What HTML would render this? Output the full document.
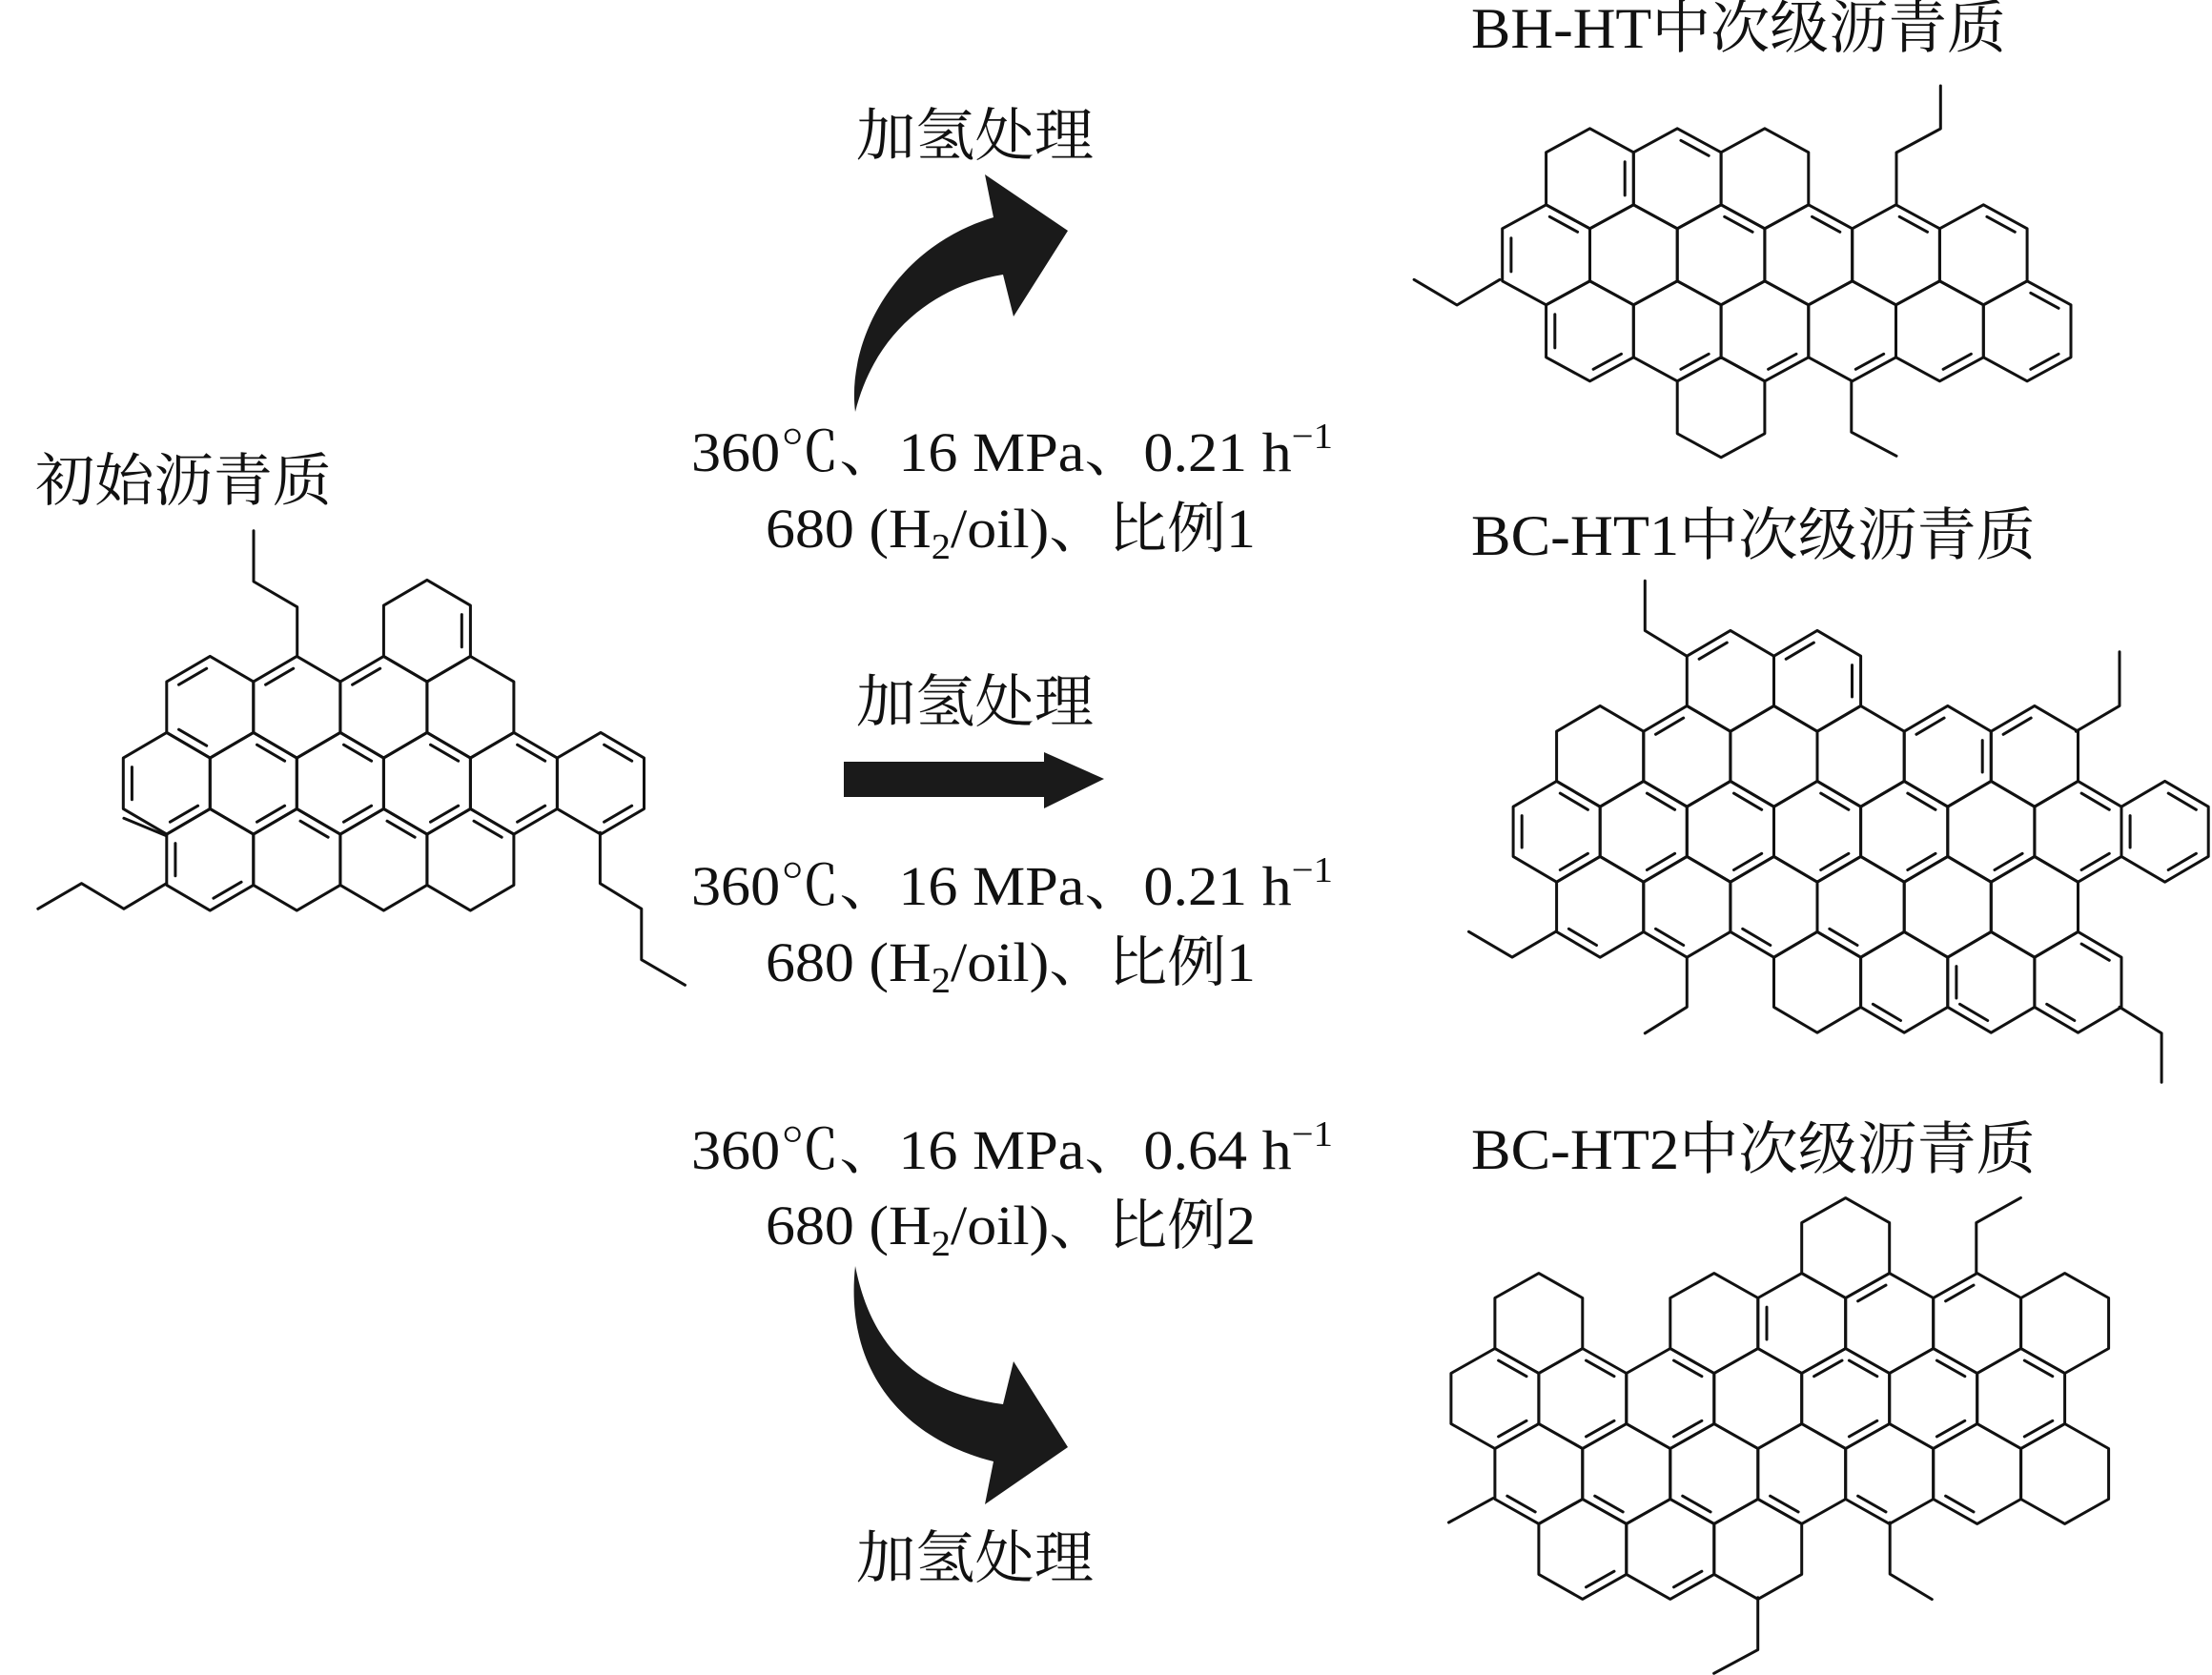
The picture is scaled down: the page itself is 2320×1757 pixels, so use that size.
<!DOCTYPE html>
<html><head><meta charset="utf-8">
<style>
html,body{margin:0;padding:0;background:#fff;}
svg{display:block;}
text{font-family:"Liberation Serif","Noto Serif CJK SC",serif;fill:#111;}
</style></head>
<body>
<svg id="s" width="2320" height="1757" viewBox="0 0 2320 1757" xmlns="http://www.w3.org/2000/svg">
<rect width="2320" height="1757" fill="#fff"/>
<g id="mol" stroke="#111" stroke-width="3" fill="none" stroke-linejoin="round" stroke-linecap="round"></g>

<path d="M897,432 C888,360 935,260 1042,228 L1033,183 L1120,242 L1063,332 L1052,288 C990,298 920,340 897,432 Z" fill="#1a1a1a"/>
<path d="M885,799 L1095,799 L1095,789 L1158,817 L1095,848 L1095,836 L885,836 Z" fill="#1a1a1a"/>
<path d="M897,1328 C885,1440 950,1510 1042,1533 L1033,1578 L1120,1518 L1063,1428 L1052,1473 C970,1462 915,1420 897,1328 Z" fill="#1a1a1a"/>

<text x="1543" y="50" font-size="60" textLength="561" lengthAdjust="spacingAndGlyphs">BH-HT中次级沥青质</text>
<text x="1543" y="582" font-size="60" textLength="592" lengthAdjust="spacingAndGlyphs">BC-HT1中次级沥青质</text>
<text x="1543" y="1226" font-size="60" textLength="592" lengthAdjust="spacingAndGlyphs">BC-HT2中次级沥青质</text>
<text x="37" y="525" font-size="60" textLength="311" lengthAdjust="spacingAndGlyphs">初始沥青质</text>

<text x="898" y="163" font-size="60" textLength="249" lengthAdjust="spacingAndGlyphs">加氢处理</text>
<text x="898" y="757" font-size="60" textLength="249" lengthAdjust="spacingAndGlyphs">加氢处理</text>
<text x="898" y="1655" font-size="60" textLength="249" lengthAdjust="spacingAndGlyphs">加氢处理</text>

<text x="725" y="494" font-size="58" textLength="673" lengthAdjust="spacingAndGlyphs">360℃、16 MPa、0.21 h<tspan dy="-24" font-size="38">−1</tspan></text>
<text x="803" y="574" font-size="58" textLength="514" lengthAdjust="spacingAndGlyphs">680 (H<tspan dy="12" font-size="38">2</tspan><tspan dy="-12">/oil)、比例1</tspan></text>
<text x="725" y="949" font-size="58" textLength="673" lengthAdjust="spacingAndGlyphs">360℃、16 MPa、0.21 h<tspan dy="-24" font-size="38">−1</tspan></text>
<text x="803" y="1029" font-size="58" textLength="514" lengthAdjust="spacingAndGlyphs">680 (H<tspan dy="12" font-size="38">2</tspan><tspan dy="-12">/oil)、比例1</tspan></text>
<text x="725" y="1226" font-size="58" textLength="673" lengthAdjust="spacingAndGlyphs">360℃、16 MPa、0.64 h<tspan dy="-24" font-size="38">−1</tspan></text>
<text x="803" y="1305" font-size="58" textLength="514" lengthAdjust="spacingAndGlyphs">680 (H<tspan dy="12" font-size="38">2</tspan><tspan dy="-12">/oil)、比例2</tspan></text>
</svg>
<script>
(function(){
var g=document.getElementById('mol');var NS='http://www.w3.org/2000/svg';
var TR=null;
function T(p){return [TR.bx+(p[0]-TR.ax)*TR.sx, TR.by+(p[1]-TR.ay)*TR.sy];}
function line(P,Q){P=T(P);Q=T(Q);var l=document.createElementNS(NS,'line');l.setAttribute('x1',P[0].toFixed(1));l.setAttribute('y1',P[1].toFixed(1));l.setAttribute('x2',Q[0].toFixed(1));l.setAttribute('y2',Q[1].toFixed(1));g.appendChild(l);}
function poly(pts,closed){var p=document.createElementNS(NS,closed?'polygon':'polyline');p.setAttribute('points',pts.map(function(q){q=T(q);return q[0].toFixed(1)+','+q[1].toFixed(1)}).join(' '));g.appendChild(p);}
function mol(M){
  TR=M.tr;
  var pitch=M.b+M.h;
  function C(q,r){return [M.X0+2*M.a*q+M.a*r, M.Y0+pitch*r];}
  function V(c){var x=c[0],y=c[1],a=M.a,b=M.b,h=M.h/2;
    return [[x,y-h-b],[x+a,y-h],[x+a,y+h],[x,y+h+b],[x-a,y+h],[x-a,y-h]];}
  M.rings.forEach(function(rw){var r=rw[0];rw[1].forEach(function(q){poly(V(C(q,r)),true);});});
  M.dbl.forEach(function(d){var c=C(d[0],d[1]);var v=V(c);var P=v[d[2]],Q=v[(d[2]+1)%6];
    var f=0.2;var p=[P[0]+(c[0]-P[0])*f,P[1]+(c[1]-P[1])*f],qq=[Q[0]+(c[0]-Q[0])*f,Q[1]+(c[1]-Q[1])*f];
    var t=0.1;line([p[0]+(qq[0]-p[0])*t,p[1]+(qq[1]-p[1])*t],[qq[0]+(p[0]-qq[0])*t,qq[1]+(p[1]-qq[1])*t]);});
  M.chains.forEach(function(ch){poly(ch.map(function(z){return [M.ox+z[0]/3,M.oy+z[1]/3];}),false);});
}
function rng(a,b){var o=[];for(var i=a;i<=b;i++)o.push(i);return o;}
mol({tr:{ax:29.6,bx:37,sx:1.371,ay:0,by:0,sy:1},X0:163.3,Y0:741.7,a:33.2,b:26.7,h:53.3,ox:20,oy:540,
 rings:[[-1,[3]],[0,rng(0,3)],[1,rng(-1,4)],[2,rng(-1,2)]],
 dbl:[[0,0,5],[0,0,3],[1,0,5],[2,0,5],[3,-1,1],[-1,1,4],[-1,1,2],[0,1,0],[0,1,2],[1,1,0],[1,1,2],[2,1,0],[2,1,2],[3,1,0],[3,1,2],[4,1,0],[4,1,2],[-1,2,4],[-1,2,2],[0,2,0],[1,2,0],[2,2,0]],
 chains:[[[630,445],[630,290],[530,210],[530,50]],[[330,1160],[232,1240],[135,1160],[35,1240]],[[1325,1000],[1325,1160],[1420,1240],[1420,1400],[1520,1480]],[[232,955],[330,1010]]]});
mol({tr:{ax:1484,bx:1484,sx:1.349,ay:0,by:0,sy:1},X0:1620,Y0:187.3,a:34,b:25,h:55,ox:1480,oy:60,
 rings:[[0,[0,1,2]],[1,rng(-1,4)],[2,rng(-1,4)],[3,[0]]],
 dbl:[[0,0,1],[1,0,0],[1,1,0],[-1,1,4],[-1,1,0],[2,1,0],[3,1,0],[4,1,0],[-1,2,4],[-1,2,2],[0,2,2],[1,2,2],[2,2,2],[3,2,2],[4,2,0],[4,2,2]],
 chains:[[[1135,465],[1135,300],[1238,225],[1238,90]],[[210,700],[110,780],[10,700]],[[1030,1020],[1030,1180],[1135,1255]]]});
mol({tr:{ax:1535,bx:1543,sx:1.519,ay:611,by:611,sy:1.03},X0:1714,Y0:711.3,a:30,b:26,h:50.7,ox:1520,oy:600,
 rings:[[0,[0,1]],[1,rng(-2,3)],[2,rng(-3,4)],[3,rng(-3,2)],[4,rng(-1,2)]],
 dbl:[[0,0,5],[1,0,5],[1,0,1],[-1,1,5],[2,1,5],[2,1,1],[3,1,5],[-3,2,4],[-3,2,0],[-3,2,2],[-2,2,0],[-2,2,2],[-1,2,0],[-1,2,2],[0,2,0],[0,2,2],[1,2,0],[1,2,2],[2,2,2],[3,2,0],[3,2,2],[4,2,0],[4,2,4],[4,2,2],[-3,3,3],[-2,3,3],[-1,3,3],[0,3,3],[1,4,4],[0,4,3],[1,4,3],[2,4,3],[2,4,0]],
 chains:[[[492,258],[405,180],[405,28]],[[1298,488],[1388,410],[1388,245]],[[220,1100],[130,1178],[40,1100]],[[492,1178],[492,1330],[405,1410]],[[1388,1330],[1475,1410],[1475,1560]]]});
mol({tr:{ax:1517,bx:1520,sx:1.469,ay:1248,by:1255,sy:1.06},X0:1800,Y0:1299,a:31.3,b:24.5,h:50,ox:1500,oy:1200,
 rings:[[0,[0]],[1,[-4,-2,-1,0,1,2]],[2,rng(-5,1)],[3,rng(-5,1)],[4,rng(-5,-3)]],
 dbl:[[-1,1,4],[0,1,5],[1,1,5],[-5,2,0],[-5,2,2],[-4,2,0],[-4,2,2],[-3,2,0],[-3,2,2],[-1,2,5],[-1,2,0],[-1,2,2],[0,2,0],[0,2,2],[1,2,0],[1,2,2],[-5,3,3],[-4,3,3],[-3,3,3],[-2,3,3],[-1,3,3],[0,3,3],[-5,4,2],[-4,4,2]],
 chains:[[[1180,372],[1180,222],[1275,148]],[[145,1040],[50,1112]],[[995,1112],[995,1265],[1085,1340]],[[712,1335],[712,1490],[618,1560]]]});
})();
</script>
</body></html>
